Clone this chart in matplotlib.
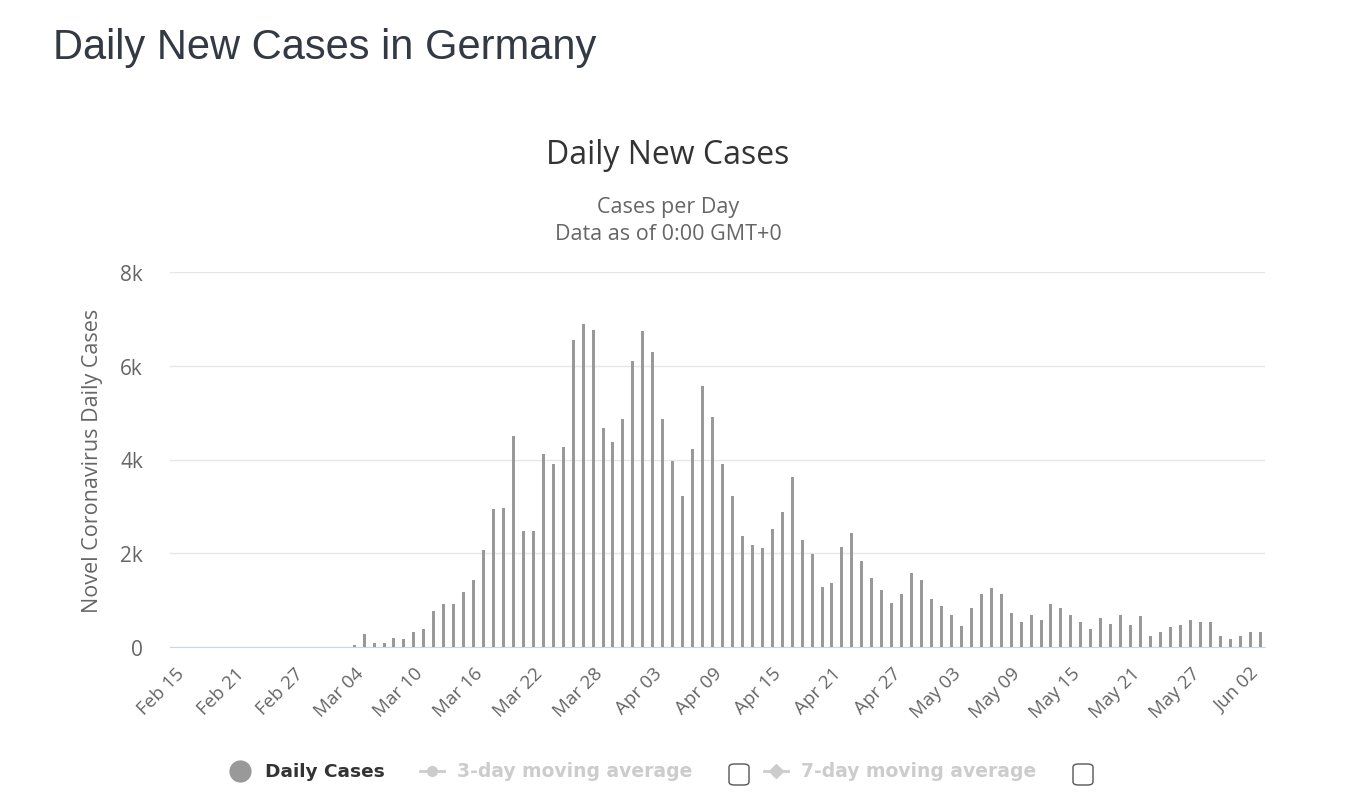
import numpy as np
import pandas as pd
import matplotlib
matplotlib.use('Agg')
import matplotlib.pyplot as plt
from matplotlib.lines import Line2D
from matplotlib.patches import FancyBboxPatch

# daily new cases, Feb 15 .. Jun 03 (nothing visible before Mar 04)
dates = pd.date_range('2020-02-15', '2020-06-03', freq='D')
cases_from_mar04 = [
    50, 277, 85, 85, 199, 171, 313, 391, 768, 910, 910, 1180, 1436, 2069,
    2937, 2965, 4494, 2482, 2482, 4125, 3897, 4267, 6549, 6884, 6770, 4679,
    4380, 4864, 6094, 6734, 6286, 4864,
    3968, 3221, 4231, 5575, 4900, 3897, 3221, 2368, 2183, 2105, 2510, 2887,
    3634, 2290, 1991, 1280, 1358, 2140, 2439, 1842, 1465, 1209, 946, 1131,
    1579, 1429, 1017, 867, 683, 455, 832, 1131,
    1252, 1138, 725, 540, 690, 576, 910, 839, 690, 540, 391, 612, 497, 690,
    462, 654, 241, 313, 427, 462, 576, 540, 540, 241, 163, 241, 313, 313,
]
daily_cases = [0] * (len(dates) - len(cases_from_mar04)) + cases_from_mar04
labels = [d.strftime('%b %d') for d in dates]
y_ticks = [0, 2000, 4000, 6000, 8000]
y_tick_labels = ['0', '2k', '4k', '6k', '8k']

fig = plt.figure(figsize=(13.54, 8.03), dpi=100)
ax = fig.add_axes([170 / 1354, 1 - 648 / 803, 1095 / 1354, 375 / 803])

x = np.arange(len(dates))
ax.bar(x, daily_cases, width=0.3, color='#999999', zorder=3)

ax.set_xlim(-0.5, len(dates) - 0.5)
ax.set_ylim(0, 8000)
ax.set_yticks(y_ticks)
ax.set_yticklabels(y_tick_labels)
ax.set_xticks(x[::6])
ax.set_xticklabels(labels[::6], rotation=45, ha='right', rotation_mode='anchor')

ax.grid(axis='y', color='#e6e6e6', linewidth=1, zorder=0)
for s in ['top', 'right', 'left']:
    ax.spines[s].set_visible(False)
ax.spines['bottom'].set_color('#ccd6eb')
ax.tick_params(axis='x', length=0, pad=12, labelsize=13.5, labelcolor='#666666')
ax.tick_params(axis='y', length=0, pad=19.5, labelsize=15, labelcolor='#666666')
for t in ax.get_xticklabels() + ax.get_yticklabels():
    t.set_family('Open Sans')

ax.set_ylabel('Novel Coronavirus Daily Cases', fontsize=15.5, color='#666666',
              family='Open Sans', labelpad=12)

fig.text(53 / 1354, 1 - 48 / 803, 'Daily New Cases in Germany', fontsize=30,
         color='#333a44', family='Liberation Sans', va='center', ha='left')
fig.text(668 / 1354, 1 - 155 / 803, 'Daily New Cases', fontsize=23,
         color='#333333', family='Open Sans', va='center', ha='center')
fig.text(668 / 1354, 1 - 208 / 803, 'Cases per Day', fontsize=15.5,
         color='#666666', family='Open Sans', va='center', ha='center')
fig.text(668 / 1354, 1 - 234 / 803, 'Data as of 0:00 GMT+0', fontsize=15.5,
         color='#666666', family='Open Sans', va='center', ha='center')

# legend row
ly = 1 - 772 / 803
fig.add_artist(Line2D([240 / 1354], [ly], marker='o', markersize=15,
                      color='#999999', linestyle='none'))
fig.text(265 / 1354, ly, 'Daily Cases', fontsize=13.3, fontweight='bold',
         color='#333333', family='Liberation Sans Narrow', va='center')
for x0, txt, mk, cb in [(420, '3-day moving average', 'o', 739),
                        (764, '7-day moving average', 'D', 1083)]:
    fig.add_artist(Line2D([x0 / 1354, (x0 + 24) / 1354], [ly, ly],
                          color='#cccccc', linewidth=2))
    fig.add_artist(Line2D([(x0 + 12) / 1354], [ly], marker=mk, markersize=7,
                          color='#cccccc', linestyle='none'))
    fig.text((x0 + 37) / 1354, ly, txt, fontsize=13.5, fontweight='bold',
             color='#cccccc', family='Liberation Sans Narrow', va='center')
    fig.add_artist(FancyBboxPatch(((cb - 10) / 1354, (803 - 786) / 803),
                                  20 / 1354, 21 / 803,
                                  boxstyle='round,pad=0,rounding_size=0.004',
                                  fill=False, edgecolor='#555555', linewidth=1,
                                  transform=fig.transFigure))

fig.savefig('out.png', dpi=100)
